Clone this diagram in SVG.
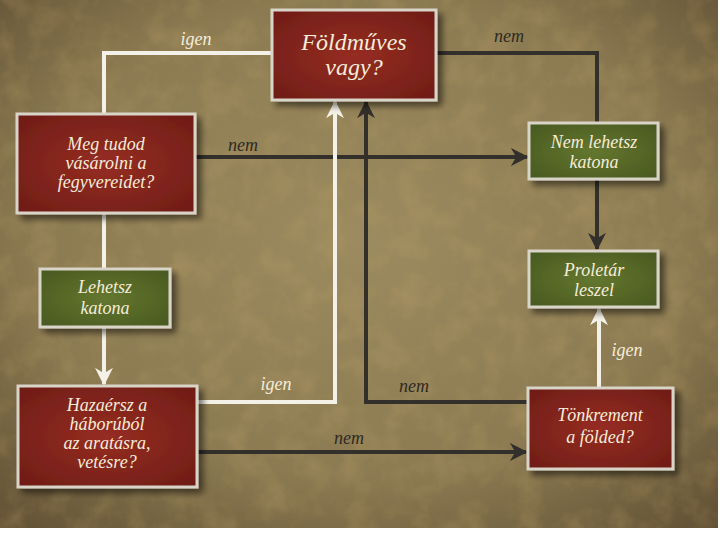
<svg xmlns="http://www.w3.org/2000/svg" width="720" height="540" viewBox="0 0 720 540">
<defs>
<radialGradient id="bg" cx="50%" cy="45%" r="75%">
<stop offset="0" stop-color="#9c8b5f"/>
<stop offset="0.6" stop-color="#8c7b52"/>
<stop offset="1" stop-color="#5f4e32"/>
</radialGradient>
<radialGradient id="red" cx="50%" cy="50%" r="70%">
<stop offset="0" stop-color="#962d22"/>
<stop offset="1" stop-color="#6e1c16"/>
</radialGradient>
<radialGradient id="green" cx="50%" cy="50%" r="70%">
<stop offset="0" stop-color="#64772f"/>
<stop offset="1" stop-color="#47581f"/>
</radialGradient>
<filter id="tex" x="0" y="0" width="100%" height="100%">
<feTurbulence type="fractalNoise" baseFrequency="0.035" numOctaves="4" seed="7" result="n"/>
<feColorMatrix in="n" type="matrix" values="0 0 0 0 0.55  0 0 0 0 0.38  0 0 0 0 0.15  0 0 0 1.1 -0.45"/>
</filter>
<filter id="sh" x="-10%" y="-10%" width="130%" height="140%">
<feGaussianBlur in="SourceAlpha" stdDeviation="3"/>
<feOffset dx="5" dy="5"/>
<feComponentTransfer><feFuncA type="linear" slope="0.5"/></feComponentTransfer>
<feMerge><feMergeNode/><feMergeNode in="SourceGraphic"/></feMerge>
</filter>
<marker id="aw" viewBox="0 0 10 10" refX="9" refY="5" markerWidth="4.5" markerHeight="4.5" orient="auto" markerUnits="strokeWidth">
<path d="M0,0 L10,5 L0,10 L3,5 Z" fill="#f4f1e8"/>
</marker>
<marker id="ad" viewBox="0 0 10 10" refX="9" refY="5" markerWidth="4.5" markerHeight="4.5" orient="auto" markerUnits="strokeWidth">
<path d="M0,0 L10,5 L0,10 L3,5 Z" fill="#33302c"/>
</marker>
<style>
.w{fill:none;stroke:#f4f1e8;stroke-width:4}
.d{fill:none;stroke:#33302c;stroke-width:4}
.box{stroke:#d9d4c8;stroke-width:3;filter:url(#sh)}
.r{fill:url(#red)}
.g{fill:url(#green)}
.t{font-family:"Liberation Serif","DejaVu Serif",serif;font-style:italic;fill:#f5ecd9;text-anchor:middle;font-size:18px}
.big{font-size:24px}
.lw{font-family:"Liberation Serif","DejaVu Serif",serif;font-style:italic;font-size:18px;fill:#f5ecd9;text-anchor:middle}
.ld{font-family:"Liberation Serif","DejaVu Serif",serif;font-style:italic;font-size:18px;fill:#2e2a24;text-anchor:middle}
</style>
</defs>
<rect x="0" y="0" width="720" height="540" fill="#ffffff"/>
<rect x="0" y="0" width="718" height="528" fill="url(#bg)"/>
<rect x="0" y="0" width="718" height="528" filter="url(#tex)" opacity="0.5"/>

<g id="connectors">
<polyline class="w" points="104,115 104,53 272,53"/>
<polyline class="d" points="436,53 597,53 597,123"/>
<line class="d" x1="195" y1="157" x2="527" y2="157" marker-end="url(#ad)"/>
<line class="d" x1="597" y1="179" x2="597" y2="249" marker-end="url(#ad)"/>
<line class="w" x1="104" y1="213" x2="104" y2="269"/>
<line class="w" x1="104" y1="327" x2="104" y2="384" marker-end="url(#aw)"/>
<polyline class="w" points="197,402 335,402 335,102" marker-end="url(#aw)"/>
<polyline class="d" points="528,402 366,402 366,102" marker-end="url(#ad)"/>
<line class="d" x1="197" y1="452" x2="526" y2="452" marker-end="url(#ad)"/>
<line class="w" x1="599" y1="388" x2="599" y2="309" marker-end="url(#aw)"/>
<text class="lw" x="196" y="45">igen</text>
<text class="ld" x="509" y="42">nem</text>
<text class="ld" x="243" y="151">nem</text>
<text class="lw" x="276" y="390">igen</text>
<text class="ld" x="414" y="392">nem</text>
<text class="ld" x="349" y="444">nem</text>
<text class="lw" x="627" y="356">igen</text>
</g>

<g id="foldmuves">
<rect class="box r" x="272" y="10" width="164" height="90"/>
<text class="t big" x="354" y="50">Földműves</text>
<text class="t big" x="354" y="75">vagy?</text>
</g>
<g id="megtudod">
<rect class="box r" x="17" y="114" width="178" height="99"/>
<text class="t" x="106" y="150">Meg tudod</text>
<text class="t" x="106" y="169">vásárolni a</text>
<text class="t" x="106" y="188">fegyvereidet?</text>
</g>
<g id="nemlehetsz">
<rect class="box g" x="529" y="123" width="129" height="56"/>
<text class="t" x="594" y="148">Nem lehetsz</text>
<text class="t" x="594" y="168">katona</text>
</g>
<g id="proletar">
<rect class="box g" x="529" y="251" width="129" height="56"/>
<text class="t" x="594" y="276">Proletár</text>
<text class="t" x="594" y="296">leszel</text>
</g>
<g id="lehetsz">
<rect class="box g" x="40" y="269" width="130" height="58"/>
<text class="t" x="105" y="293">Lehetsz</text>
<text class="t" x="105" y="314">katona</text>
</g>
<g id="hazaersz">
<rect class="box r" x="18" y="386" width="179" height="101"/>
<text class="t" x="107" y="411">Hazaérsz a</text>
<text class="t" x="107" y="430">háborúból</text>
<text class="t" x="107" y="449">az aratásra,</text>
<text class="t" x="107" y="468">vetésre?</text>
</g>
<g id="tonkrement">
<rect class="box r" x="528" y="388" width="145" height="81"/>
<text class="t" x="600" y="421">Tönkrement</text>
<text class="t" x="600" y="443">a földed?</text>
</g>
</svg>
